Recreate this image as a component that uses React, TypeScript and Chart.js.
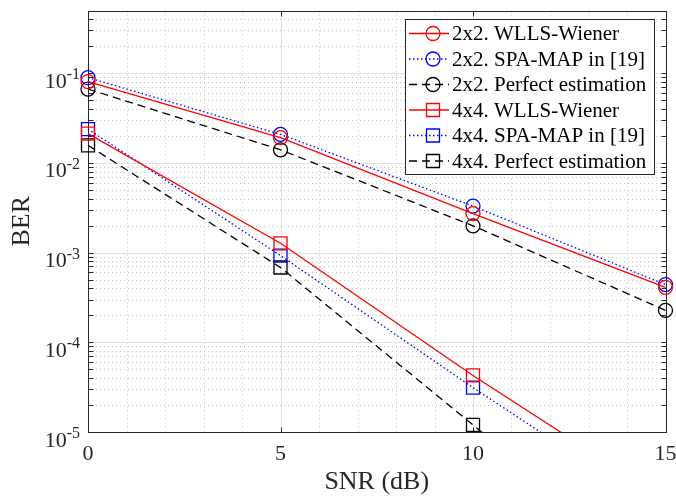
import React, { useEffect, useRef } from "react";
import { Chart, registerables } from "chart.js";

Chart.register(...registerables);

// SNR points (dB)
const snr = [0, 5, 10, 15];

// BER curves
const ber2x2Wiener = [0.0807, 0.0191, 0.00272, 4.1e-4];
const ber2x2SpaMap = [0.0892, 0.0208, 0.0033, 4.4e-4];
const ber2x2Perfect = [0.0665, 0.014, 0.00199, 2.27e-4];
const ber4x4Wiener = [0.0212, 0.00127, 4.27e-5, 1.75e-6];
const ber4x4SpaMap = [0.0238, 9.27e-4, 3.12e-5, 1.21e-6];
const ber4x4Perfect = [0.0157, 6.82e-4, 1.2e-5, 2e-7];

const seriesLabels = [
  "2x2. WLLS-Wiener",
  "2x2. SPA-MAP in [19]",
  "2x2. Perfect estimation",
  "4x4. WLLS-Wiener",
  "4x4. SPA-MAP in [19]",
  "4x4. Perfect estimation",
];

// axis ticks
const xTickValues = [0, 5, 10, 15];
const yDecadeExponents = [-5, -4, -3, -2, -1];
const yMin = 1e-5;
const yMax = 0.5;
const xMin = 0;
const xMax = 15;

const SERIF = "'Liberation Serif', 'Times New Roman', serif";
const AXIS_COLOR = "#262626";

type LineStyle = { color: string; dash: number[]; marker: "circle" | "rect" };

const styles: LineStyle[] = [
  { color: "#ff0000", dash: [], marker: "circle" },
  { color: "#0000ff", dash: [1.5, 2.5], marker: "circle" },
  { color: "#000000", dash: [8, 5], marker: "circle" },
  { color: "#ff0000", dash: [], marker: "rect" },
  { color: "#0000ff", dash: [1.5, 2.5], marker: "rect" },
  { color: "#000000", dash: [8, 5], marker: "rect" },
];

const seriesValues = [
  ber2x2Wiener,
  ber2x2SpaMap,
  ber2x2Perfect,
  ber4x4Wiener,
  ber4x4SpaMap,
  ber4x4Perfect,
];

const crisp = (v: number) => Math.round(v) + 0.5;

function drawMarker(ctx: CanvasRenderingContext2D, kind: string, x: number, y: number) {
  ctx.beginPath();
  if (kind === "circle") {
    ctx.arc(x, y, 7, 0, Math.PI * 2);
  } else {
    ctx.rect(x - 6.5, y - 6.5, 13, 13);
  }
  ctx.stroke();
}

// grid, box and inward ticks in the style of a MATLAB axes
const axesPlugin = {
  id: "matlabAxes",
  beforeDatasetsDraw(chart: any) {
    const { ctx, chartArea: a, scales } = chart;
    const xs = scales.x;
    const ys = scales.y;
    ctx.save();
    ctx.lineWidth = 1;

    // minor grid (dotted)
    ctx.strokeStyle = "#c4c4c4";
    ctx.setLineDash([1, 3]);
    ctx.beginPath();
    for (let v = xMin + 1; v < xMax; v++) {
      if (xTickValues.includes(v)) continue;
      const px = crisp(xs.getPixelForValue(v));
      ctx.moveTo(px, a.top);
      ctx.lineTo(px, a.bottom);
    }
    for (const e of yDecadeExponents) {
      for (let m = 2; m <= 9; m++) {
        const v = m * Math.pow(10, e);
        if (v >= yMax) continue;
        const py = crisp(ys.getPixelForValue(v));
        ctx.moveTo(a.left, py);
        ctx.lineTo(a.right, py);
      }
    }
    ctx.stroke();

    // major grid (solid)
    ctx.setLineDash([]);
    ctx.strokeStyle = "#e2e2e2";
    ctx.beginPath();
    for (const v of xTickValues) {
      if (v === xMin || v === xMax) continue;
      const px = crisp(xs.getPixelForValue(v));
      ctx.moveTo(px, a.top);
      ctx.lineTo(px, a.bottom);
    }
    for (const e of yDecadeExponents) {
      const v = Math.pow(10, e);
      if (v <= yMin) continue;
      const py = crisp(ys.getPixelForValue(v));
      ctx.moveTo(a.left, py);
      ctx.lineTo(a.right, py);
    }
    ctx.stroke();

    // box
    ctx.strokeStyle = AXIS_COLOR;
    const l = crisp(a.left);
    const r = crisp(a.right);
    const t = crisp(a.top);
    const b = crisp(a.bottom);
    ctx.strokeRect(l, t, r - l, b - t);

    // inward ticks
    const tl = 5;
    ctx.beginPath();
    for (const v of xTickValues) {
      const px = crisp(xs.getPixelForValue(v));
      ctx.moveTo(px, b);
      ctx.lineTo(px, b - tl);
      ctx.moveTo(px, t);
      ctx.lineTo(px, t + tl);
    }
    for (const e of yDecadeExponents) {
      for (let m = 1; m <= 9; m++) {
        const v = m * Math.pow(10, e);
        if (v > yMax) continue;
        const py = crisp(ys.getPixelForValue(v));
        ctx.moveTo(l, py);
        ctx.lineTo(l + tl, py);
        ctx.moveTo(r, py);
        ctx.lineTo(r - tl, py);
      }
    }
    ctx.stroke();

    // y tick labels: 10 with a raised exponent
    ctx.fillStyle = AXIS_COLOR;
    ctx.textBaseline = "alphabetic";
    ctx.textAlign = "left";
    const baseFont = `22px ${SERIF}`;
    const supFont = `16px ${SERIF}`;
    for (const e of yDecadeExponents) {
      const py = ys.getPixelForValue(Math.pow(10, e));
      const sup = `${e}`;
      ctx.font = supFont;
      const ws = ctx.measureText(sup).width;
      ctx.font = baseFont;
      const wb = ctx.measureText("10").width;
      const right = a.left - 8;
      ctx.fillText("10", right - ws - wb, py + 14.5);
      ctx.font = supFont;
      ctx.fillText(sup, right - ws, py + 6);
    }
    ctx.restore();
  },
  afterDatasetsDraw(chart: any) {
    const { ctx } = chart;
    ctx.save();
    // legend box
    const bx = 405.5;
    const by = 19.5;
    const bw = 249;
    const bh = 155;
    ctx.fillStyle = "#ffffff";
    ctx.fillRect(bx, by, bw, bh);
    ctx.strokeStyle = AXIS_COLOR;
    ctx.lineWidth = 1;
    ctx.setLineDash([]);
    ctx.strokeRect(bx, by, bw, bh);

    ctx.font = `21px ${SERIF}`;
    ctx.textBaseline = "middle";
    ctx.textAlign = "left";
    chart.data.datasets.forEach((ds: any, i: number) => {
      const st = styles[i];
      const y = 33.5 + i * 25.5;
      ctx.strokeStyle = st.color;
      ctx.lineWidth = 1.3;
      ctx.setLineDash(st.dash);
      ctx.beginPath();
      ctx.moveTo(409, y);
      ctx.lineTo(449, y);
      ctx.stroke();
      ctx.setLineDash([]);
      ctx.lineWidth = 1.3;
      drawMarker(ctx, st.marker, 433, y);
      ctx.fillStyle = "#000000";
      ctx.fillText(ds.label, 452, y + 1);
    });
    ctx.restore();
  },
};

export default function App() {
  const ref = useRef<HTMLCanvasElement | null>(null);

  useEffect(() => {
    if (!ref.current) return;
    const datasets = seriesValues.map((vals, i) => ({
      label: seriesLabels[i],
      data: snr.map((x, j) => ({ x, y: vals[j] })),
      borderColor: styles[i].color,
      borderWidth: 1.3,
      borderDash: styles[i].dash,
      backgroundColor: "rgba(0,0,0,0)",
      pointStyle: styles[i].marker,
      pointRadius: styles[i].marker === "circle" ? 7 : 9.2,
      pointBorderWidth: 1.3,
      pointBorderColor: styles[i].color,
      pointBackgroundColor: "rgba(0,0,0,0)",
      fill: false,
      tension: 0,
      clip: { left: 20, right: 20, top: 20, bottom: 0 },
    }));

    const chart = new Chart(ref.current, {
      type: "line",
      data: { datasets },
      options: {
        animation: false,
        responsive: false,
        devicePixelRatio: 1,
        layout: { padding: { top: 7, right: 10, left: 0, bottom: 0 } },
        plugins: {
          legend: { display: false },
          tooltip: { enabled: false },
        },
        scales: {
          x: {
            type: "linear",
            min: xMin,
            max: xMax,
            grid: { display: false, drawTicks: false },
            border: { display: false },
            afterBuildTicks: (scale: any) => {
              scale.ticks = xTickValues.map((v) => ({ value: v }));
            },
            afterFit: (scale: any) => {
              scale.height = 67;
              scale.paddingLeft = 0;
              scale.paddingRight = 0;
            },
            ticks: {
              font: { family: SERIF, size: 22 },
              color: AXIS_COLOR,
              padding: 9,
              maxRotation: 0,
              callback: (v: any) => `${v}`,
            },
            title: {
              display: true,
              text: "SNR (dB)",
              font: { family: SERIF, size: 26 },
              color: AXIS_COLOR,
              padding: { top: 0, bottom: 1 },
            },
          },
          y: {
            type: "logarithmic",
            min: yMin,
            max: yMax,
            grid: { display: false, drawTicks: false },
            border: { display: false },
            ticks: { display: false },
            afterFit: (scale: any) => {
              scale.width = 88;
              scale.paddingTop = 0;
              scale.paddingBottom = 0;
            },
            title: {
              display: true,
              text: "BER",
              font: { family: SERIF, size: 26 },
              color: AXIS_COLOR,
              padding: { top: 7, bottom: 0 },
            },
          },
        },
      },
      plugins: [axesPlugin],
    });
    return () => chart.destroy();
  }, []);

  return (
    <div style={{ position: "fixed", left: 0, top: 0, width: 676, height: 499, background: "#fff" }}>
      <canvas ref={ref} width={676} height={499} style={{ display: "block" }} />
    </div>
  );
}
